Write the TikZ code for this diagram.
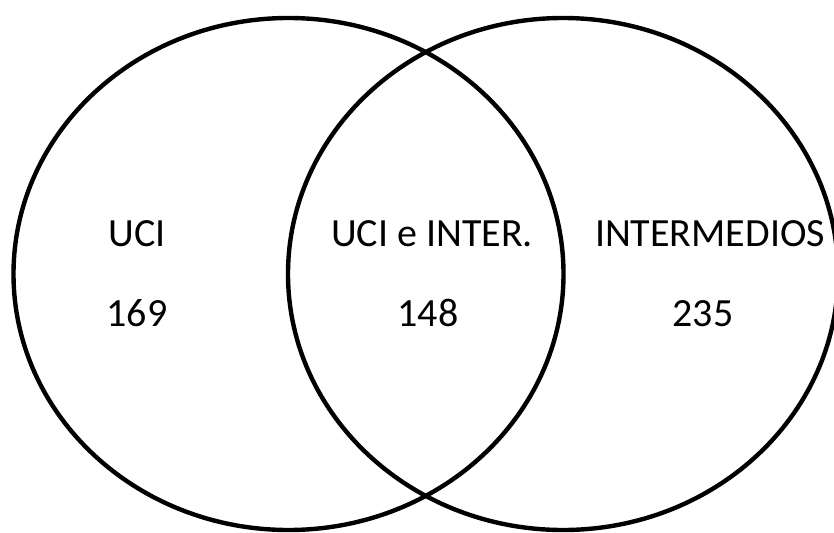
\documentclass[tikz,border=0pt]{standalone}
\usepackage{fontspec}
\setmainfont{Carlito}
\begin{document}
\begin{tikzpicture}[x=1pt,y=-1pt,
  setring/.style={draw=black,line width=4.4pt},
  lab/.style={anchor=base,inner sep=0pt,font=\fontsize{40}{48}\selectfont}]
\useasboundingbox (0,0) rectangle (834,532);
\begin{scope}
\clip (0,0) rectangle (834,532);
\draw[setring] (288.5,274) ellipse [x radius=275, y radius=256];
\draw[setring] (563,274) ellipse [x radius=275, y radius=256];
\end{scope}
\node[lab] (uci) at (137,246.5) {UCI};
\node[lab] (ucin) at (137,326) {169};
\node[lab] (both) at (432,246.5) {UCI e INTER.};
\node[lab] (bothn) at (428,326) {148};
\node[lab] (inter) at (710,246.5) {INTERMEDIOS};
\node[lab] (intern) at (703,326) {235};
\end{tikzpicture}
\end{document}
